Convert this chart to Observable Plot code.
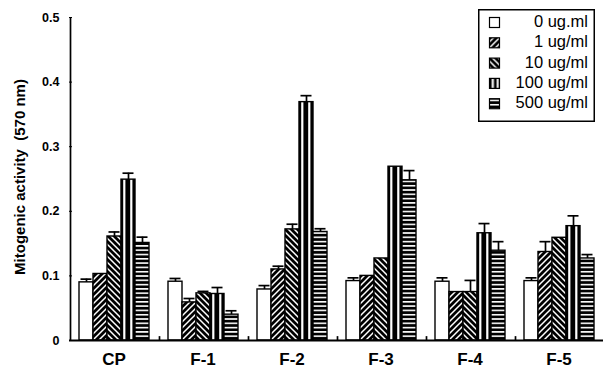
<!DOCTYPE html>
<html><head><meta charset="utf-8">
<script src="https://cdn.jsdelivr.net/npm/d3@7"></script>
<script src="https://cdn.jsdelivr.net/npm/@observablehq/plot@0.6"></script>
<style>
body{margin:0;background:#fff;font-family:"Liberation Sans",Arial,sans-serif;}
#wrap{position:relative;width:608px;height:379px;}
#legend{position:absolute;left:478px;top:9px;}
</style></head><body>
<svg width="0" height="0" style="position:absolute">
<defs>
 <pattern id="p1" patternUnits="userSpaceOnUse" width="6" height="6">
  <rect width="6" height="6" fill="#000"/>
  <path d="M-1,1 L1,-1 M0,6 L6,0 M5,7 L7,5" stroke="#fff" stroke-width="1.5"/>
 </pattern>
 <pattern id="p10" patternUnits="userSpaceOnUse" width="6" height="6">
  <rect width="6" height="6" fill="#000"/>
  <path d="M-1,5 L1,7 M0,0 L6,6 M5,-1 L7,1" stroke="#fff" stroke-width="1.5"/>
 </pattern>
 <pattern id="p100" patternUnits="objectBoundingBox" width="0.5" height="1">
  <rect width="40" height="500" fill="#000"/>
  <rect x="2.2" width="2.2" height="500" fill="#fff"/>
 </pattern>
 <pattern id="p500" patternUnits="userSpaceOnUse" width="4" height="4.3">
  <rect width="4" height="4.3" fill="#000"/>
  <rect y="0" width="4" height="1.6" fill="#fff"/>
 </pattern>
</defs></svg>
<div id="wrap"><div id="chart"></div><svg id="legend" width="117" height="113"></svg></div>
<script>
const groups = ["CP", "F-1", "F-2", "F-3", "F-4", "F-5"];
const doses = ["0 ug.ml", "1 ug/ml", "10 ug/ml", "100 ug/ml", "500 ug/ml"];
const mean0   = [0.090, 0.091, 0.079, 0.092, 0.091, 0.092];
const mean1   = [0.103, 0.059, 0.110, 0.100, 0.075, 0.137];
const mean10  = [0.161, 0.073, 0.172, 0.127, 0.075, 0.159];
const mean100 = [0.249, 0.072, 0.369, 0.269, 0.166, 0.177];
const mean500 = [0.151, 0.040, 0.168, 0.248, 0.139, 0.127];
const err0   = [0.005, 0.005, 0.006, 0.005, 0.006, 0.005];
const err1   = [0.000, 0.006, 0.005, 0.000, 0.000, 0.016];
const err10  = [0.007, 0.003, 0.008, 0.000, 0.018, 0.000];
const err100 = [0.010, 0.010, 0.010, 0.000, 0.015, 0.016];
const err500 = [0.009, 0.006, 0.005, 0.015, 0.014, 0.006];
const yTicks = [0, 0.1, 0.2, 0.3, 0.4, 0.5];
const yLabel = "Mitogenic activity  (570 nm)";
const fills = ["#fff", "url(#p1)", "url(#p10)", "url(#p100)", "url(#p500)"];

const means = [mean0, mean1, mean10, mean100, mean500];
const errs = [err0, err1, err10, err100, err500];
const data = doses.flatMap((dose, i) => groups.map((g, j) => ({group: g, dose, value: means[i][j], err: errs[i][j]})));
const withErr = data.filter(d => d.err > 0);
const edges = groups.map((g, i) => ({group: g, top: i === 0 ? 0.5 : 0.006}));

const chart = Plot.plot({
  width: 608, height: 379,
  marginTop: 17, marginBottom: 39, marginLeft: 68, marginRight: 4,
  style: {fontFamily: "Liberation Sans, Arial, sans-serif", background: "#fff", color: "#000", fontWeight: "bold"},
  fx: {domain: groups, padding: 0, label: null},
  x: {domain: doses, paddingInner: 0, paddingOuter: 0.62, axis: null},
  y: {domain: [0, 0.5]},
  color: {domain: doses, range: fills},
  marks: [
    Plot.axisY({ticks: yTicks, tickFormat: d => d === 0 ? "0" : d.toFixed(1), tickSize: -3, tickPadding: 13,
      fontSize: 12.5, label: null}),
    Plot.text([yLabel], {fx: () => groups[0], frameAnchor: "left", textAnchor: "middle", lineAnchor: "middle",
      rotate: -90, dx: -49, dy: -2, fontSize: 15, fontWeight: "bold", text: d => d}),
    Plot.axisFx({anchor: "bottom", tickSize: 0, tickPadding: 12, fontSize: 17, label: null}),
    Plot.barY(data, {fx: "group", x: "dose", y: "value", fill: "dose", stroke: "#000", strokeWidth: 1.4}),
    Plot.ruleX(withErr, {fx: "group", x: "dose", y1: "value", y2: d => d.value + d.err, strokeWidth: 1.7}),
    Plot.tickY(withErr, {fx: "group", x: "dose", y: d => d.value + d.err, strokeWidth: 1.7, insetLeft: 1.5, insetRight: 1.5}),
    Plot.ruleY([0], {strokeWidth: 1.8}),
    Plot.ruleX(edges, {fx: "group", x: () => doses[0], dx: -16, y1: 0, y2: "top", strokeWidth: 1.7})
  ]
});
document.getElementById("chart").appendChild(chart);

// legend
const lg = d3.select("#legend");
lg.append("rect").attr("x", 0.75).attr("y", 0.75).attr("width", 115.5).attr("height", 111.5)
  .attr("fill", "#fff").attr("stroke", "#000").attr("stroke-width", 1.5);
const rows = lg.selectAll("g.row").data(doses).join("g").attr("class", "row")
  .attr("transform", (d, i) => `translate(0,${18 + i * 20.3})`);
rows.append("rect").attr("x", 11.5).attr("y", -9.5).attr("width", 10).attr("height", 10)
  .attr("fill", (d, i) => fills[i]).attr("stroke", "#000").attr("stroke-width", 1.2);
rows.append("text").attr("x", 110).attr("text-anchor", "end").attr("font-size", 16.5)
  .attr("font-family", "Liberation Sans, Arial, sans-serif").text(d => d);
</script>
</body></html>
